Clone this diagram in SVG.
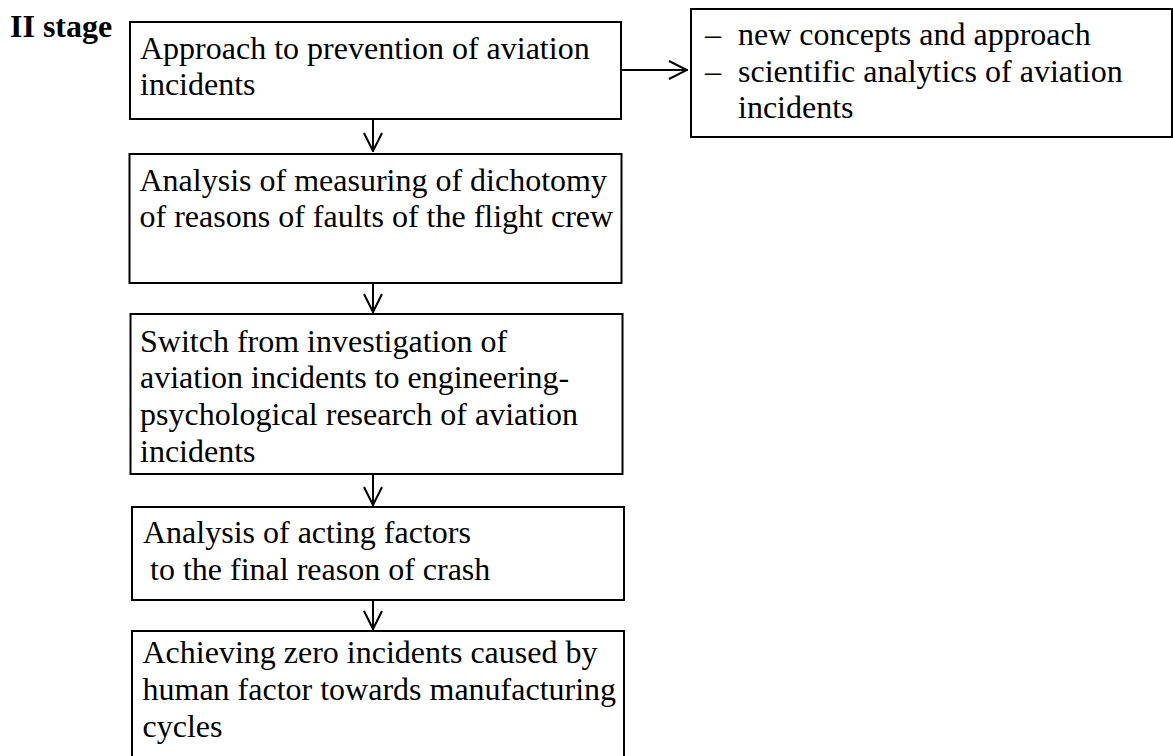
<svg xmlns="http://www.w3.org/2000/svg" width="1173" height="756" viewBox="0 0 1173 756">
<style>
.box{fill:#fff;stroke:#000;stroke-width:2}
.t{font-family:"Liberation Serif","Times New Roman",serif;font-size:32px;fill:#000}
.b{font-weight:bold}
.c{fill:none;stroke:#000;stroke-width:2}
</style>
<defs>
<marker id="ah" viewBox="0 0 20 20" refX="20" refY="10" markerWidth="20" markerHeight="20" markerUnits="userSpaceOnUse" orient="auto">
<path d="M1,1 L19,10 L1,19" fill="none" stroke="#000" stroke-width="2"/>
</marker>
</defs>
<rect width="1173" height="756" fill="#fff"/>
<text class="t b" x="10" y="37">II stage</text>
<g id="connectors">
<line class="c" x1="621" y1="70" x2="688" y2="70" marker-end="url(#ah)"/>
<line class="c" x1="373" y1="119" x2="373" y2="152" marker-end="url(#ah)"/>
<line class="c" x1="373" y1="283" x2="373" y2="313" marker-end="url(#ah)"/>
<line class="c" x1="373" y1="474" x2="373" y2="506" marker-end="url(#ah)"/>
<line class="c" x1="373" y1="600" x2="373" y2="630" marker-end="url(#ah)"/>
</g>
<g id="n1">
<rect class="box" x="130" y="22" width="491" height="97"/>
<text class="t" x="140" y="58.5">Approach to prevention of aviation</text>
<text class="t" x="140" y="95">incidents</text>
</g>
<g id="n_right">
<rect class="box" x="691" y="9" width="481" height="128"/>
<text class="t" x="705" y="45">–<tspan x="738">new concepts and approach</tspan></text>
<text class="t" x="705" y="81.7">–<tspan x="738">scientific analytics of aviation</tspan></text>
<text class="t" x="738" y="118.3">incidents</text>
</g>
<g id="n2">
<rect class="box" x="129.5" y="154" width="492" height="129"/>
<text class="t" x="139.5" y="190.7">Analysis of measuring of dichotomy</text>
<text class="t" x="139.5" y="226.7">of reasons of faults of the flight crew</text>
</g>
<g id="n3">
<rect class="box" x="130.5" y="314" width="492" height="160"/>
<text class="t" x="140" y="351.7">Switch from investigation of</text>
<text class="t" x="140" y="388.3">aviation incidents to engineering-</text>
<text class="t" x="140" y="425">psychological research of aviation</text>
<text class="t" x="140" y="461.7">incidents</text>
</g>
<g id="n4">
<rect class="box" x="132" y="507" width="492" height="93"/>
<text class="t" x="143" y="543.3">Analysis of acting factors</text>
<text class="t" x="150" y="580">to the final reason of crash</text>
</g>
<g id="n5">
<rect class="box" x="132" y="631" width="492" height="140"/>
<text class="t" x="142.5" y="662.7">Achieving zero incidents caused by</text>
<text class="t" x="142.5" y="699.5">human factor towards manufacturing</text>
<text class="t" x="142.5" y="736.5">cycles</text>
</g>
</svg>
